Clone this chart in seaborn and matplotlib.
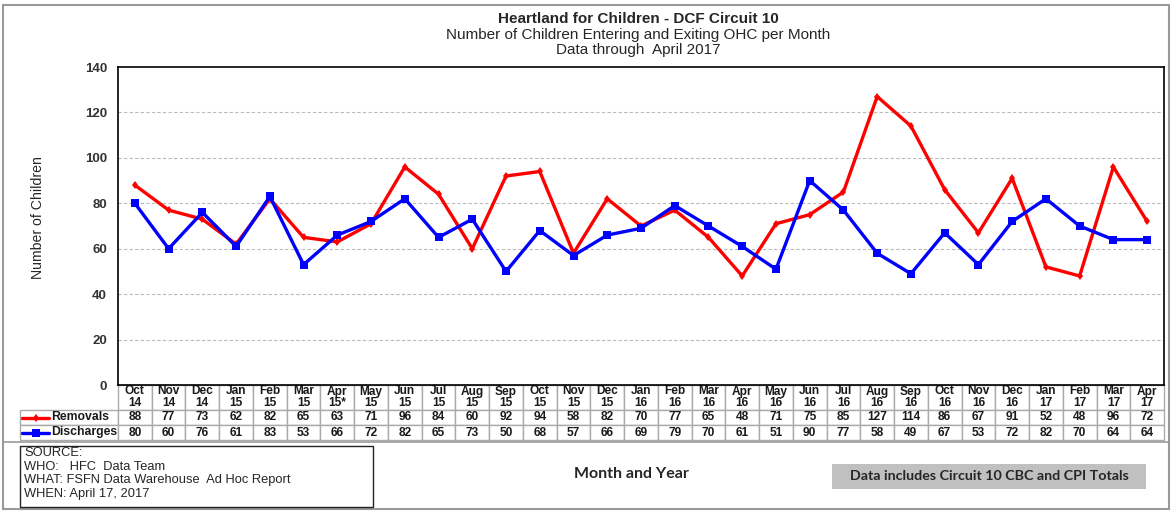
import numpy as np
import pandas as pd
import matplotlib
matplotlib.use("Agg")
import matplotlib.pyplot as plt
from matplotlib.patches import Rectangle
from matplotlib.lines import Line2D
import seaborn as sns

months = ["Oct\n14", "Nov\n14", "Dec\n14", "Jan\n15", "Feb\n15", "Mar\n15", "Apr\n15*", "May\n15",
          "Jun\n15", "Jul\n15", "Aug\n15", "Sep\n15", "Oct\n15", "Nov\n15", "Dec\n15", "Jan\n16",
          "Feb\n16", "Mar\n16", "Apr\n16", "May\n16", "Jun\n16", "Jul\n16", "Aug\n16", "Sep\n16",
          "Oct\n16", "Nov\n16", "Dec\n16", "Jan\n17", "Feb\n17", "Mar\n17", "Apr\n17"]
removals = [88, 77, 73, 62, 82, 65, 63, 71, 96, 84, 60, 92, 94, 58, 82, 70, 77, 65, 48, 71, 75, 85,
            127, 114, 86, 67, 91, 52, 48, 96, 72]
discharges = [80, 60, 76, 61, 83, 53, 66, 72, 82, 65, 73, 50, 68, 57, 66, 69, 79, 70, 61, 51, 90, 77,
              58, 49, 67, 53, 72, 82, 70, 64, 64]
series_names = ["Removals", "Discharges"]
series_colors = ["#FF0000", "#0000FF"]
yticks = [0, 20, 40, 60, 80, 100, 120, 140]

sns.set_style("white")
plt.rcParams["font.family"] = ["Liberation Sans", "DejaVu Sans"]

W, H = 1173, 513
fig = plt.figure(figsize=(W / 100, H / 100), dpi=100)

def px_axes(l, t, r, b):
    return [l / W, (H - b) / H, (r - l) / W, (b - t) / H]

def overlay(z):
    o = fig.add_axes([0, 0, 1, 1], zorder=z)
    o.set_xlim(0, W)
    o.set_ylim(H, 0)
    o.axis("off")
    o.patch.set_alpha(0)
    return o

# background overlay for decorations
ov = overlay(0)
ov.add_patch(Rectangle((3, 5), 1166, 504, fill=False, ec="#999999", lw=1.5))
ov.plot([3, 1169], [442, 442], color="#999999", lw=1.2)

ax = fig.add_axes(px_axes(118, 67, 1164, 385), zorder=2)
n = len(months)
df = pd.DataFrame({
    "idx": list(range(n)) * 2,
    "value": removals + discharges,
    "series": [series_names[0]] * n + [series_names[1]] * n,
})
sns.lineplot(data=df, x="idx", y="value", hue="series", style="series",
             palette=dict(zip(series_names, series_colors)),
             markers={series_names[0]: "d", series_names[1]: "s"},
             dashes=False, linewidth=2.4, ax=ax, legend=False)
for line, ms in zip(ax.lines, [4.5, 6]):
    line.set_markersize(ms)
    line.set_markeredgewidth(0)

ax.set_xlim(-0.5, n - 0.5)
ax.set_ylim(0, 140)
ax.set_yticks(yticks)
ax.set_yticklabels([str(v) for v in yticks], fontsize=9.5, fontweight="bold", color="#333333")
ax.set_xticks([])
ax.set_xlabel("")
ax.set_ylabel("")
ax.tick_params(axis="y", length=0, pad=8)
for yv in yticks[1:-1]:
    ax.axhline(yv, color="#BBBBBB", lw=0.8, ls=(0, (3, 2)), zorder=0)
for s in ax.spines.values():
    s.set_color("black")
    s.set_linewidth(1.2)

# data table (first column holds the series legend)
tbl_l, tbl_r, tbl_t, tbl_b = 20, 1164, 385, 440
aw, ah = 1164 - 118, 385 - 67
bbox = [(tbl_l - 118) / aw, -(tbl_b - 385) / ah, (tbl_r - tbl_l) / aw, (tbl_b - tbl_t) / ah]
cell_text = [[""] + [str(v) for v in removals], [""] + [str(v) for v in discharges]]
table = ax.table(cellText=cell_text, colLabels=[""] + months, cellLoc="center",
                 colWidths=[98.0 / 1046] + [1.0 / n] * n, bbox=bbox)
table.auto_set_font_size(False)
for (r, c), cell in table.get_celld().items():
    cell.set_edgecolor("#AAAAAA")
    cell.set_linewidth(1.0)
    cell.set_height(25 if r == 0 else 15)
    cell.get_text().set_fontsize(8.6)
    cell.get_text().set_fontweight("bold")
    cell.get_text().set_color("#1a1a1a")
    cell.PAD = 0.02
    if r == 0:
        cell.get_text().set_linespacing(1.0)
    if r == 0 and c == 0:
        cell.visible_edges = ""
        cell.set_facecolor("none")

# legend glyphs in row labels (top overlay)
top = overlay(5)
for i, (name, col, mk, ms) in enumerate(zip(series_names, series_colors, ["d", "s"], [4.5, 6])):
    yc = 417.5 + 15 * i
    top.add_line(Line2D([22, 49], [yc, yc], color=col, lw=2.4))
    top.plot([35.5], [yc], marker=mk, color=col, ms=ms, mew=0)
    top.text(51, yc, name, fontsize=8.8, fontweight="bold", ha="left", va="center", color="#1a1a1a")

# titles
top.text(638, 19, "Heartland for Children - DCF Circuit 10", ha="center", va="center",
         fontsize=11, fontweight="bold")
top.text(638, 35, "Number of Children Entering and Exiting OHC per Month", ha="center",
         va="center", fontsize=11)
top.text(638, 50, "Data through  April 2017", ha="center", va="center", fontsize=11)
top.text(38, 218, "Number of Children", rotation=90, ha="center", va="center", fontsize=10.2)

# source box
ov.add_patch(Rectangle((20, 446), 353, 61, fill=False, ec="#222222", lw=1.0, zorder=4))
for i, line in enumerate(["SOURCE:", "WHO:   HFC  Data Team", "WHAT: FSFN Data Warehouse  Ad Hoc Report",
                          "WHEN: April 17, 2017"]):
    ov.text(24, 453 + 13.5 * i, line, fontsize=9.3, ha="left", va="center", zorder=5)

ov.text(631, 474, "Month and Year", fontsize=11.5, fontweight="bold", ha="center", va="center",
        family=["Lato", "DejaVu Sans"])
ov.add_patch(Rectangle((832, 464), 314, 25, fc="#C0C0C0", ec="none", zorder=3))
ov.text(989, 476.5, "Data includes Circuit 10 CBC and CPI Totals", fontsize=10.3, fontweight="bold",
        ha="center", va="center", family=["Lato", "DejaVu Sans"], zorder=5)

fig.savefig("out.png", dpi=100)
